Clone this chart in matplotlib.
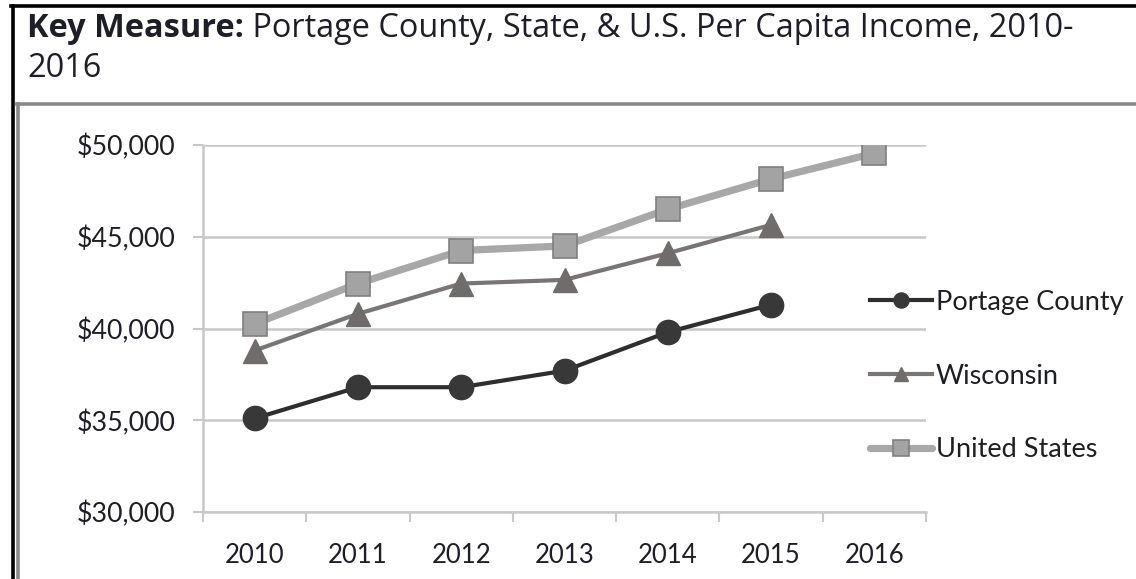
import matplotlib
matplotlib.use("Agg")
import matplotlib.pyplot as plt
from matplotlib.lines import Line2D
from matplotlib.ticker import FuncFormatter, FixedLocator

# Per capita income, 2010-2016
years = ["2010", "2011", "2012", "2013", "2014", "2015", "2016"]
portage_county = [35100, 36800, 36800, 37700, 39800, 41300, None]
wisconsin = [38800, 40800, 42450, 42650, 44100, 45650, None]
united_states = [40250, 42450, 44250, 44500, 46500, 48150, 49550]
series_names = ["Portage County", "Wisconsin", "United States"]
y_ticks = [30000, 35000, 40000, 45000, 50000]

W, H = 1136, 579
DPI = 100
FONT = "Lato"
TITLE_FONT = "Open Sans"
TXT = "#1e1e28"

fig = plt.figure(figsize=(W / DPI, H / DPI), dpi=DPI)
fig.patch.set_facecolor("white")


def px(x, y):
    """Convert top-left pixel coordinates into figure fractions."""
    return x / W, 1 - y / H


# Frame lines around the panel
for (x0, y0), (x1, y1), c, lw in [
    ((12.5, 6), (12.5, H + 5), "black", 2.6),
    ((11, 6), (W + 5, 6), "black", 2.6),
    ((18, 104), (18, H + 5), "#8a8a8a", 2.6),
    ((17, 104), (W + 5, 104), "#8a8a8a", 2.6),
]:
    a, b = px(x0, y0)
    c2, d = px(x1, y1)
    fig.add_artist(Line2D([a, c2], [b, d], color=c, lw=lw, transform=fig.transFigure))

# Title
tx, ty = px(27, 37)
t1 = fig.text(tx, ty, "Key Measure:", fontsize=23.4, fontweight="bold",
              family=TITLE_FONT, color=TXT, va="baseline")
fig.add_artist(plt.Annotation(
    " Portage County, State, & U.S. Per Capita Income, 2010-",
    xy=(1, 0), xycoords=t1, va="bottom", ha="left",
    fontsize=23.4, family=TITLE_FONT, color=TXT))
tx2, ty2 = px(27, 77)
fig.text(tx2, ty2, "2016", fontsize=23.4, family=TITLE_FONT, color=TXT,
         va="baseline")

# Plot area
left, bottom = px(203, 512)
right, top = px(926, 145)
ax = fig.add_axes([left, bottom, right - left, top - bottom])

x = list(range(len(years)))
grid_c = "#c8c8c8"


def trim(vals):
    xs = [i for i, v in zip(x, vals) if v is not None]
    ys = [v for v in vals if v is not None]
    return xs, ys


xs, ys = trim(united_states)
ax.plot(xs, ys, color="#a8a8a8", lw=5.2, marker="s", ms=17.5,
        mfc="#a3a3a3", mec="#808080", mew=1.2, zorder=3,
        solid_capstyle="round", label=series_names[2])
xs, ys = trim(wisconsin)
ax.plot(xs, ys, color="#7a7474", lw=3.0, marker="^", ms=17,
        mfc="#716c6c", mec="#716c6c", zorder=4, label=series_names[1])
xs, ys = trim(portage_county)
ax.plot(xs, ys, color="#2e2e2e", lw=3.0, marker="o", ms=17.5,
        mfc="#383838", mec="#383838", zorder=5, label=series_names[0])

ax.set_xlim(-0.5, len(years) - 0.5)
ax.set_ylim(y_ticks[0], y_ticks[-1])
ax.set_yticks(y_ticks)
ax.yaxis.set_major_formatter(FuncFormatter(lambda v, p: f"${v:,.0f}"))
ax.set_xticks(x)
ax.set_xticklabels(years)
ax.xaxis.set_minor_locator(FixedLocator([i - 0.5 for i in range(len(years) + 1)]))
ax.tick_params(axis="x", which="major", length=0, pad=22, labelsize=18.5,
               labelcolor=TXT)
ax.tick_params(axis="x", which="minor", length=7, width=1.5, color=grid_c,
               direction="out")
ax.tick_params(axis="y", which="major", length=7, width=1.5, color=grid_c,
               pad=13, labelsize=19.3, labelcolor=TXT)
for lab in ax.get_xticklabels() + ax.get_yticklabels():
    lab.set_family(FONT)
ax.grid(axis="y", color=grid_c, lw=1.8, zorder=0)
ax.set_axisbelow(True)
for s in ["top", "right"]:
    ax.spines[s].set_visible(False)
for s in ["left", "bottom"]:
    ax.spines[s].set_color(grid_c)
    ax.spines[s].set_linewidth(1.8)

handles, labels = ax.get_legend_handles_labels()
order = [2, 1, 0]
leg = fig.legend([handles[i] for i in order], [labels[i] for i in order],
                 loc="center left", bbox_to_anchor=px(870, 376),
                 frameon=False, borderaxespad=0, borderpad=0,
                 handlelength=2.3, handletextpad=0.12,
                 labelspacing=1.8, markerscale=0.62,
                 prop={"family": FONT, "size": 19.5})
for t in leg.get_texts():
    t.set_color(TXT)

fig.savefig("out.png", dpi=DPI, facecolor="white")
